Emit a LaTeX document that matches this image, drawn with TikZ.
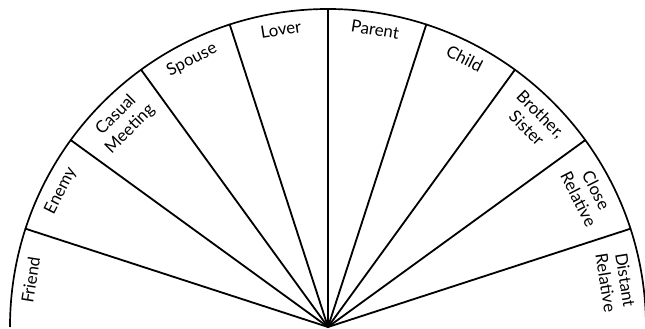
\documentclass[tikz,border=0pt]{standalone}
\usepackage{fontspec}
\setmainfont{Lato}
\begin{document}
\begin{tikzpicture}[x=0.025cm, y=0.025cm,
	bordo/.style={line width=1.2pt, black},
	raggio/.style={line width=1.3pt, black, line cap=round},
	voce/.style={font=\fontsize{12}{14}\selectfont, align=center, inner sep=1pt}]
	
	\def\R{318}                          %% outer radius (px)
	\def\passo{18}                       %% angle of one sector
	\useasboundingbox (-328,-2) rectangle (317,327);
	
	\coordinate (O) at (0,0);
	
	%% --- outer arc ---
	\draw[bordo] (\R,0) arc (0:180:\R);
	
	%% --- spokes between sectors ---
	\foreach \a in {18,36,...,162}
		\draw[raggio] (O) -- (\a:\R);
	
	%% --- sector labels, from left to right ---
	\foreach \testo [count=\i] in {Friend, Enemy, {Casual\\Meeting}, Spouse, Lover,
		Parent, Child, {Brother,\\Sister}, {Close\\Relative}, {Distant\\Relative}}
	{
		\pgfmathsetmacro{\ang}{180+\passo/2-\passo*\i}
		\node[voce, anchor=north, rotate=\ang-90] (v\i) at (\ang:\R-9) {\testo};
	}
	
\end{tikzpicture}
\end{document}
